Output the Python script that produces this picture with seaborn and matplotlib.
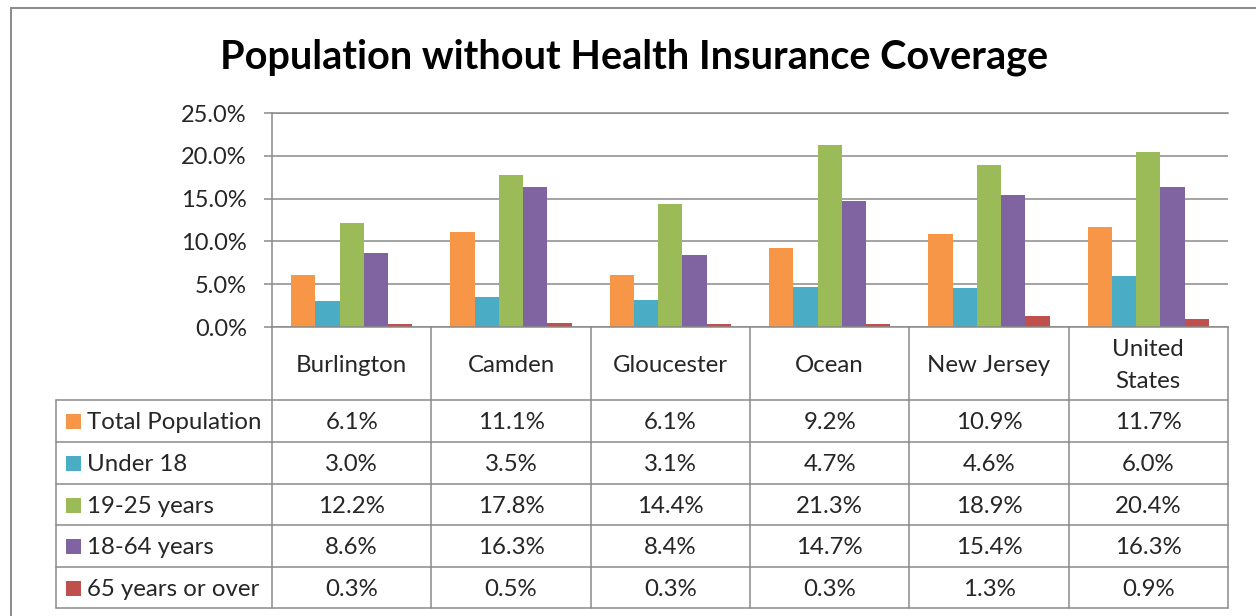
import matplotlib
matplotlib.use("Agg")
import matplotlib.pyplot as plt
import seaborn as sns
import pandas as pd
from matplotlib.lines import Line2D
from matplotlib.patches import Rectangle

# ---------------- data ----------------
categories = ["Burlington", "Camden", "Gloucester", "Ocean", "New Jersey", "United\nStates"]
series_names = ["Total Population", "Under 18", "19-25 years", "18-64 years", "65 years or over"]
total_population = [6.1, 11.1, 6.1, 9.2, 10.9, 11.7]
under_18 = [3.0, 3.5, 3.1, 4.7, 4.6, 6.0]
age_19_25 = [12.2, 17.8, 14.4, 21.3, 18.9, 20.4]
age_18_64 = [8.6, 16.3, 8.4, 14.7, 15.4, 16.3]
age_65_over = [0.3, 0.5, 0.3, 0.3, 1.3, 0.9]
yticks = [0, 5, 10, 15, 20, 25]
title = "Population without Health Insurance Coverage"

colors = ["#F79646", "#4BACC6", "#9BBB59", "#8064A2", "#C0504D"]
series_values = [total_population, under_18, age_19_25, age_18_64, age_65_over]

rows = []
for name, vals in zip(series_names, series_values):
    for cat, v in zip(categories, vals):
        rows.append({"category": cat, "series": name, "value": v})
df = pd.DataFrame(rows)

# ---------------- figure ----------------
sns.set_style("white")
plt.rcParams["font.family"] = ["Lato", "DejaVu Sans"]

W, H = 1256, 616
fig = plt.figure(figsize=(W / 100, H / 100), dpi=100)
GRAY = "#8A8A8A"
LW = 1.1
FS = 17.3


def fx(x):
    return x / W


def fy(y):
    return 1 - y / H


left, right, top, bottom = 272, 1228, 113, 327
ax = fig.add_axes([fx(left), fy(bottom), (right - left) / W, (bottom - top) / H])

sns.barplot(data=df, x="category", y="value", hue="series", order=categories,
            hue_order=series_names, palette=colors, width=0.76, saturation=1,
            linewidth=0, legend=False, ax=ax)

ax.set_xlim(-0.5, len(categories) - 0.5)
ax.set_ylim(0, 25)
ax.set_yticks(yticks)
ax.set_yticklabels([f"{v:.1f}%" for v in yticks], fontsize=17)
ax.set_xticks([])
ax.set_xlabel("")
ax.set_ylabel("")
ax.yaxis.grid(True, color=GRAY, linewidth=LW)
ax.set_axisbelow(True)
ax.tick_params(axis="y", direction="out", length=6, width=LW, color=GRAY, pad=12, left=True)
for s in ["right"]:
    ax.spines[s].set_visible(False)
for s in ["left", "bottom", "top"]:
    ax.spines[s].set_visible(True)
    ax.spines[s].set_color(GRAY)
    ax.spines[s].set_linewidth(LW)

# ---------------- title ----------------
fig.text(fx(634), fy(69), title, ha="center", va="baseline", fontsize=28.5,
         fontweight="bold", color="black")

# ---------------- outer border ----------------
fig.add_artist(Rectangle((fx(11), fy(640)), (1280 - 11) / W, (640 - 8) / H,
                         transform=fig.transFigure, fill=False, edgecolor=GRAY,
                         linewidth=1.4, clip_on=False))

# ---------------- data table ----------------
cat_w = (right - left) / len(categories)
bounds = [left + i * cat_w for i in range(len(categories) + 1)]
row_lines = [400, 442, 484, 525, 567, 608]
legend_left = 56


def hline(x0, x1, y):
    fig.add_artist(Line2D([fx(x0), fx(x1)], [fy(y), fy(y)], color=GRAY, linewidth=LW,
                          transform=fig.transFigure))


def vline(x, y0, y1):
    fig.add_artist(Line2D([fx(x), fx(x)], [fy(y0), fy(y1)], color=GRAY, linewidth=LW,
                          transform=fig.transFigure))


for y in row_lines:
    hline(legend_left, right, y)
vline(legend_left, row_lines[0], row_lines[-1])
for b in bounds:
    vline(b, bottom, row_lines[-1])

# category labels
for i, cat in enumerate(categories):
    cx = (bounds[i] + bounds[i + 1]) / 2
    lines = cat.split("\n")
    n = len(lines)
    for k, ln in enumerate(lines):
        by = 372 + (k - (n - 1) / 2) * 32
        fig.text(fx(cx), fy(by), ln, ha="center", va="baseline", fontsize=FS)

# rows
for r, (name, vals, col) in enumerate(zip(series_names, series_values, colors)):
    rt = row_lines[r]
    base = rt + 29
    fig.add_artist(Rectangle((fx(66), fy(rt + 29)), 15 / W, 15 / H,
                             transform=fig.transFigure, facecolor=col, edgecolor="none"))
    fig.text(fx(87), fy(base), name, ha="left", va="baseline", fontsize=FS)
    for i, v in enumerate(vals):
        cx = (bounds[i] + bounds[i + 1]) / 2
        fig.text(fx(cx), fy(base), f"{v:.1f}%", ha="center", va="baseline", fontsize=FS)

fig.savefig("out.png", dpi=100)
